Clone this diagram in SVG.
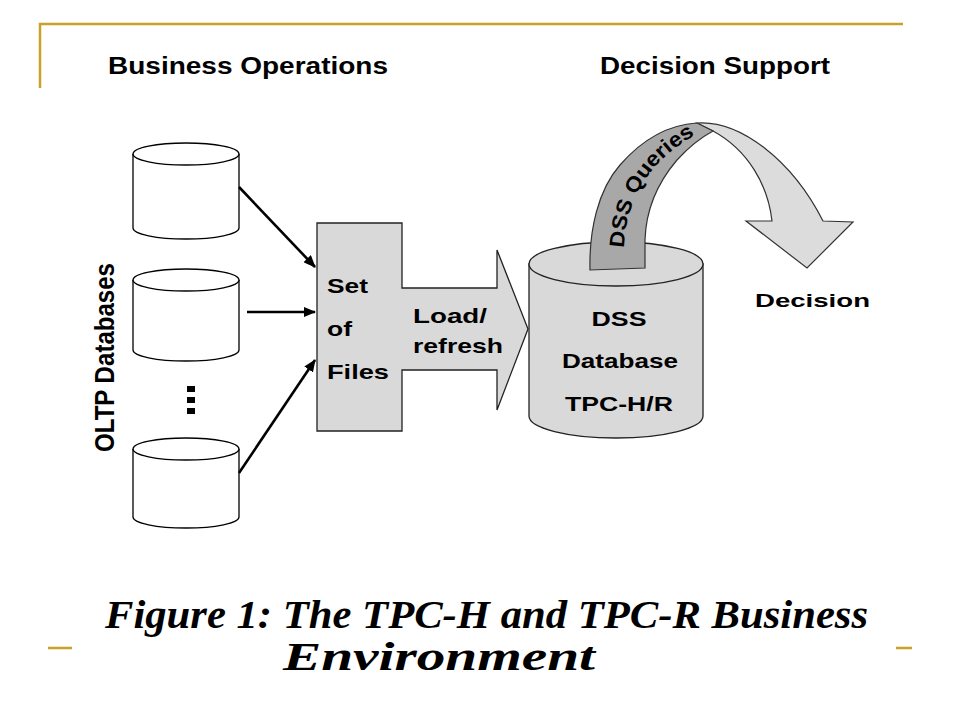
<svg xmlns="http://www.w3.org/2000/svg" width="960" height="720" viewBox="0 0 960 720">
<style>
 .frame{stroke:#C8A02A;stroke-width:2.5;fill:none}
 .sans{font-family:"Liberation Sans",Arial,sans-serif;font-weight:bold;fill:#000}
 .cap{font-family:"Liberation Serif","Times New Roman",serif;font-weight:bold;font-style:italic;fill:#000}
 .db{fill:#fff;stroke:#000;stroke-width:1.3}
 .gray{fill:#d9d9d9;stroke:#222;stroke-width:1.3}
 .dark{fill:#a8a8a8;stroke:#333;stroke-width:1.2}
 .light{fill:#dcdcdc;stroke:#333;stroke-width:1.2}
 .conn{stroke:#000;stroke-width:2.6;fill:none}
</style>
<defs>
 <marker id="ah" viewBox="0 0 12 10" refX="11" refY="5" markerWidth="4.8" markerHeight="4" orient="auto" markerUnits="strokeWidth">
  <path d="M0,0 L12,5 L0,10 Z" fill="#000"/>
 </marker>
 <path id="qpath" d="M624,248 C626,203 645,163 697,134"/>
</defs>

<g id="frame">
 <path class="frame" d="M40,88 V24 H903"/>
 <line class="frame" x1="48" y1="648" x2="72" y2="648"/>
 <line class="frame" x1="896" y1="648" x2="912" y2="648"/>
</g>

<g id="headers" class="sans" font-size="23">
 <text x="108" y="74" textLength="280" lengthAdjust="spacingAndGlyphs">Business Operations</text>
 <text x="600" y="74" textLength="230" lengthAdjust="spacingAndGlyphs">Decision Support</text>
</g>

<g id="oltp-label">
 <text class="sans" font-size="24" transform="translate(114,452) scale(1.15,1) rotate(-90)" textLength="189" lengthAdjust="spacingAndGlyphs">OLTP Databases</text>
</g>

<g id="oltp1">
 <path class="db" d="M133,154 V228 A53,11 0 0 0 239,228 V154"/>
 <ellipse class="db" cx="186" cy="154" rx="53" ry="11"/>
</g>
<g id="oltp2">
 <path class="db" d="M133,280 V350 A53,11 0 0 0 239,350 V280"/>
 <ellipse class="db" cx="186" cy="280" rx="53" ry="11"/>
</g>
<g id="ellipsis">
 <rect x="187" y="386" width="8" height="6" fill="#000"/>
 <rect x="187" y="397" width="8" height="6" fill="#000"/>
 <rect x="187" y="408" width="8" height="6" fill="#000"/>
</g>
<g id="oltp3">
 <path class="db" d="M133,449 V517 A53,11 0 0 0 239,517 V449"/>
 <ellipse class="db" cx="186" cy="449" rx="53" ry="11"/>
</g>

<g id="connectors">
 <line class="conn" x1="239" y1="187" x2="315" y2="267" marker-end="url(#ah)"/>
 <line class="conn" x1="247" y1="312" x2="315" y2="312" marker-end="url(#ah)"/>
 <line class="conn" x1="239" y1="473" x2="315" y2="360" marker-end="url(#ah)"/>
</g>

<g id="files">
 <path class="gray" d="M317,223 H402 V288 H497 V250 L528,329 L497,410 V370 H402 V431 H317 Z"/>
 <g class="sans" font-size="21">
  <text x="327" y="293" textLength="41" lengthAdjust="spacingAndGlyphs">Set</text>
  <text x="327" y="336" textLength="25" lengthAdjust="spacingAndGlyphs">of</text>
  <text x="327" y="379" textLength="62" lengthAdjust="spacingAndGlyphs">Files</text>
  <text x="413" y="323" textLength="74" lengthAdjust="spacingAndGlyphs">Load/</text>
  <text x="413" y="353" textLength="90" lengthAdjust="spacingAndGlyphs">refresh</text>
 </g>
</g>

<g id="dss">
 <path class="gray" d="M529,264 V416 A87,22 0 0 0 703,416 V264 Z"/>
 <ellipse class="gray" cx="616" cy="264" rx="87" ry="22"/>
 <g class="sans" font-size="21" text-anchor="middle">
  <text x="619" y="326" textLength="55" lengthAdjust="spacingAndGlyphs">DSS</text>
  <text x="620" y="368" textLength="116" lengthAdjust="spacingAndGlyphs">Database</text>
  <text x="619" y="411" textLength="108" lengthAdjust="spacingAndGlyphs">TPC-H/R</text>
 </g>
</g>

<g id="queries">
 <path class="light" d="M697,123 C740,120 792,160 823,221 L853,222 L807,268 L746,221 L772,221 C768,185 748,150 713,131 Z"/>
 <path class="dark" d="M590,270 C589,230 598,190 620,165 C640,142 665,125 697,123 L713,131 C700,138 688,148 677,160 C660,180 646,205 645,240 L645,268 Z"/>
 <text class="sans" font-size="21"><textPath href="#qpath" textLength="140" lengthAdjust="spacingAndGlyphs">DSS Queries</textPath></text>
</g>

<g id="decision">
 <text class="sans" x="755" y="307" font-size="19" textLength="115" lengthAdjust="spacingAndGlyphs">Decision</text>
</g>

<g id="caption" class="cap" font-size="40">
 <text x="105" y="628" textLength="763" lengthAdjust="spacingAndGlyphs">Figure 1: The TPC-H and TPC-R Business</text>
 <text x="283" y="670" textLength="312" lengthAdjust="spacingAndGlyphs">Environment</text>
</g>
</svg>
